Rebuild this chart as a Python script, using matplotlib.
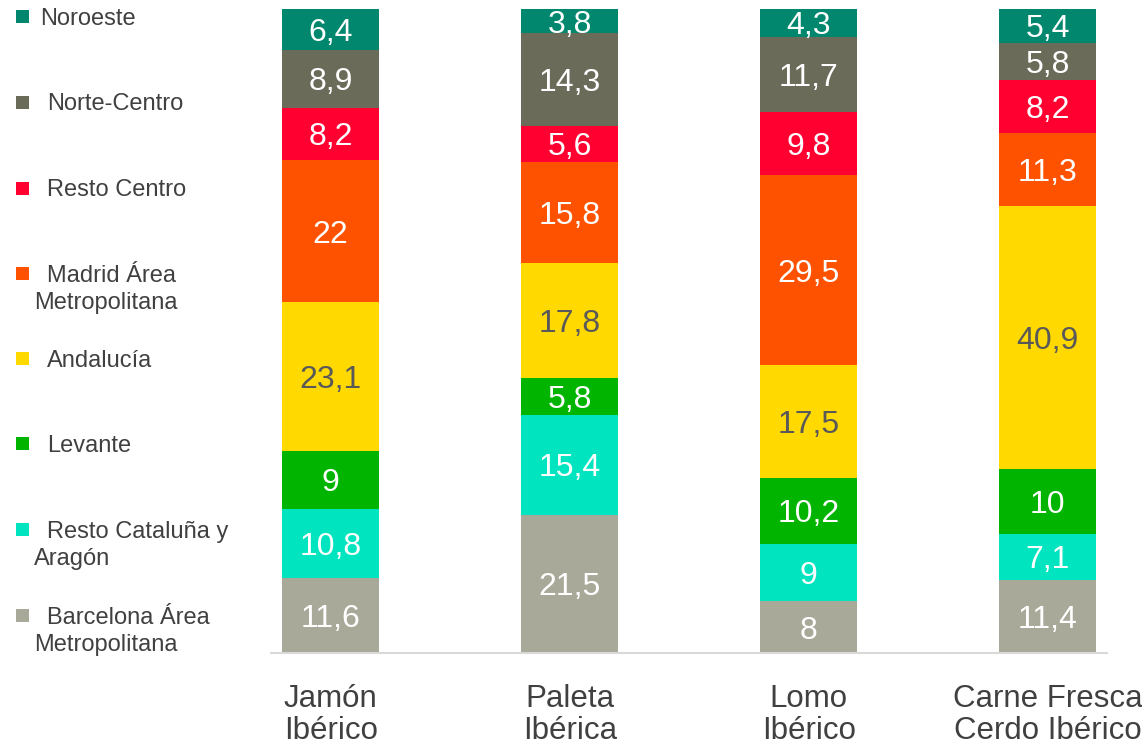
import matplotlib.pyplot as plt
from matplotlib.patches import Rectangle

plt.rcParams['font.family'] = ['Liberation Sans', 'DejaVu Sans']

categories = ['Jamón\nIbérico', 'Paleta\nIbérica', 'Lomo\nIbérico', 'Carne Fresca\nCerdo Ibérico']

# series from bottom to top
regions = ['Barcelona Área\nMetropolitana', 'Resto Cataluña y\nAragón', 'Levante', 'Andalucía',
           'Madrid Área\nMetropolitana', 'Resto Centro', 'Norte-Centro', 'Noroeste']
barcelona = [11.6, 21.5, 8, 11.4]
cataluna = [10.8, 15.4, 9, 7.1]
levante = [9, 5.8, 10.2, 10]
andalucia = [23.1, 17.8, 17.5, 40.9]
madrid = [22, 15.8, 29.5, 11.3]
resto_centro = [8.2, 5.6, 9.8, 8.2]
norte_centro = [8.9, 14.3, 11.7, 5.8]
noroeste = [6.4, 3.8, 4.3, 5.4]
series = [barcelona, cataluna, levante, andalucia, madrid, resto_centro, norte_centro, noroeste]

colors = ['#A9A999', '#00E5BF', '#00B400', '#FFD900', '#FF5200', '#FF0030', '#6B6B59', '#00876D']
label_colors = ['white', 'white', 'white', '#595959', 'white', 'white', 'white', 'white']

fig = plt.figure(figsize=(11.42, 7.48), dpi=100)
ax = fig.add_axes([271 / 1142, 1 - 653 / 748, (1107 - 271) / 1142, (653 - 9) / 748])

x = list(range(len(categories)))
bottom = [0] * len(categories)
for vals, col, tcol in zip(series, colors, label_colors):
    ax.bar(x, vals, width=0.404, bottom=bottom, color=col, linewidth=0)
    for i, v in enumerate(vals):
        txt = f"{v:g}".replace('.', ',')
        ax.text(x[i], bottom[i] + v / 2, txt, ha='center', va='center_baseline',
                fontsize=23, color=tcol)
    bottom = [b + v for b, v in zip(bottom, vals)]

ax.set_xlim(-0.25, 3.248)
ax.set_ylim(0, 100)
for s in ['top', 'right', 'left']:
    ax.spines[s].set_visible(False)
ax.spines['bottom'].set_color('#D9D9D9')
ax.spines['bottom'].set_linewidth(1.5)
ax.set_yticks([])
ax.set_xticks(x)
ax.set_xticklabels(categories, fontsize=22.5, color='#404040', linespacing=1.12)
ax.tick_params(axis='x', length=0, pad=22)

# legend drawn by hand, top entry first
ys = [16.5, 102, 188, 273, 358.5, 443.5, 529.5, 615]
for name, col, yc, k in zip(regions[::-1], colors[::-1], ys, range(8)):
    fig.patches.append(Rectangle((16 / 1142, 1 - (yc + 6.5) / 748), 13 / 1142, 13 / 748,
                                 transform=fig.transFigure, color=col, linewidth=0))
    lines = name.split('\n')
    tx = 40 if k == 0 else 47
    fig.text(tx / 1142, 1 - yc / 748, lines[0], fontsize=17, color='#404040',
             ha='left', va='center_baseline')
    if len(lines) > 1:
        fig.text(34 / 1142, 1 - (yc + 27) / 748, lines[1], fontsize=17, color='#404040',
                 ha='left', va='center_baseline')

plt.savefig('out.png', dpi=100)
